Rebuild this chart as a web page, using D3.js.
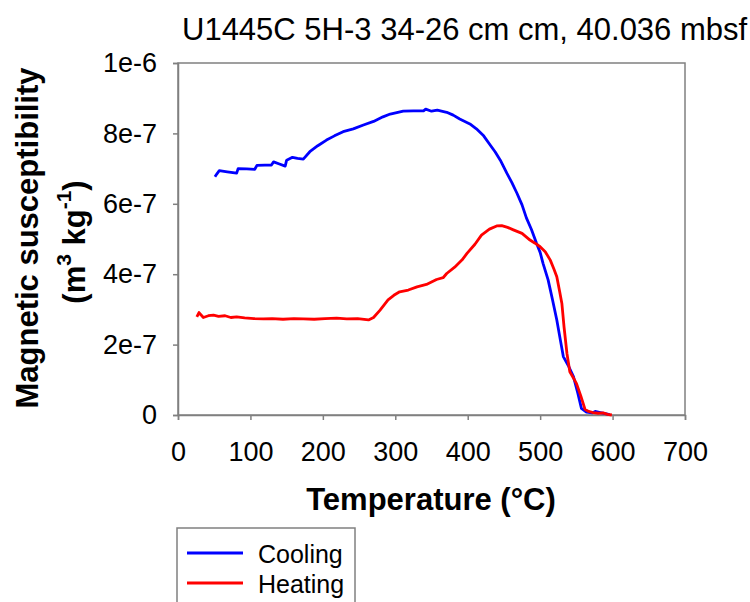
<!DOCTYPE html>
<html>
<head>
<meta charset="utf-8">
<script src="https://cdn.jsdelivr.net/npm/d3@7"></script>
<style>
  body { margin: 0; background: #fff; }
  svg { font-family: "Liberation Sans", Arial, sans-serif; }
</style>
</head>
<body>
<div id="chart"></div>
<script>
// Cooling curve (blue): temperature (°C) and susceptibility (m3 kg-1)
const coolT = [51, 54, 57, 68, 81, 83, 95, 106, 109, 120, 129, 132, 140, 148, 150, 158, 165, 173, 182,
  193, 205, 216, 228, 242, 256, 270, 283, 293, 302, 311, 325, 339, 342, 350, 358, 371, 380, 389,
  403, 412, 422, 431, 438, 445, 454, 461, 468, 475, 481, 488, 495, 500, 504, 511, 517, 523, 528,
  532, 539, 546, 552, 557, 564, 572, 576, 583, 590, 596];
const coolV = [6.77e-7, 6.86e-7, 6.94e-7, 6.91e-7, 6.87e-7, 7.00e-7, 6.99e-7, 6.98e-7, 7.09e-7, 7.10e-7,
  7.10e-7, 7.19e-7, 7.13e-7, 7.07e-7, 7.24e-7, 7.32e-7, 7.29e-7, 7.27e-7, 7.48e-7,
  7.65e-7, 7.81e-7, 7.93e-7, 8.05e-7, 8.13e-7, 8.24e-7, 8.34e-7, 8.47e-7, 8.55e-7, 8.59e-7, 8.63e-7,
  8.64e-7, 8.64e-7, 8.69e-7, 8.63e-7, 8.66e-7, 8.60e-7, 8.52e-7, 8.41e-7,
  8.27e-7, 8.13e-7, 7.93e-7, 7.67e-7, 7.47e-7, 7.24e-7, 6.87e-7, 6.60e-7, 6.30e-7, 5.97e-7, 5.60e-7,
  5.27e-7, 4.88e-7, 4.62e-7, 4.31e-7, 3.84e-7, 3.28e-7, 2.70e-7, 2.12e-7,
  1.66e-7, 1.40e-7, 1.09e-7, 0.62e-7, 0.19e-7, 0.08e-7, 0.06e-7, 0.10e-7, 0.07e-7, 0.04e-7, 0.01e-7];

// Heating curve (red)
const heatT = [26, 29, 35, 42, 49, 56, 65, 73, 81, 92, 105, 118, 130, 145, 160, 173, 188, 203, 219,
  233, 248, 263, 270, 279, 290, 298, 306, 318, 330, 343, 357, 366, 371, 382, 392, 399, 410, 419,
  430, 440, 447, 455, 463, 475, 486, 493, 500, 507, 514, 519, 523, 527, 530, 533, 537, 541, 546,
  550, 556, 562, 567, 573, 580, 587, 593, 599];
const heatV = [2.79e-7, 2.91e-7, 2.77e-7, 2.82e-7, 2.84e-7, 2.80e-7, 2.82e-7, 2.77e-7, 2.79e-7, 2.76e-7,
  2.74e-7, 2.73e-7, 2.74e-7, 2.72e-7, 2.74e-7, 2.73e-7, 2.72e-7, 2.74e-7, 2.75e-7,
  2.73e-7, 2.74e-7, 2.70e-7, 2.77e-7, 2.98e-7, 3.27e-7, 3.40e-7, 3.50e-7, 3.55e-7, 3.64e-7, 3.71e-7,
  3.85e-7, 3.90e-7, 4.02e-7, 4.20e-7, 4.40e-7, 4.59e-7, 4.85e-7, 5.11e-7,
  5.28e-7, 5.37e-7, 5.38e-7, 5.33e-7, 5.26e-7, 5.16e-7, 4.97e-7, 4.88e-7, 4.78e-7, 4.64e-7, 4.40e-7,
  4.15e-7, 3.93e-7, 3.50e-7, 3.17e-7, 2.50e-7, 1.75e-7, 1.23e-7, 1.05e-7,
  0.90e-7, 0.55e-7, 0.16e-7, 0.10e-7, 0.07e-7, 0.05e-7, 0.06e-7, 0.02e-7, 0.00e-7];

const xTicks = [0, 100, 200, 300, 400, 500, 600, 700];
const yTicks = [0, 2e-7, 4e-7, 6e-7, 8e-7, 1e-6];
const yTickLabels = ['0', '2e-7', '4e-7', '6e-7', '8e-7', '1e-6'];

const width = 750, height = 602;
const margin = { left: 178, right: 65, top: 63, bottom: 187 };
const axisColor = '#808080';
const font = '"Liberation Sans", Arial, sans-serif';

const svg = d3.select('#chart').append('svg')
  .attr('width', width)
  .attr('height', height);

const x = d3.scaleLinear().domain([0, 700]).range([margin.left, width - margin.right]);
const y = d3.scaleLinear().domain([0, 1e-6]).range([height - margin.bottom, margin.top]);

// Plot frame
svg.append('rect')
  .attr('x', x(0)).attr('y', y(1e-6))
  .attr('width', x(700) - x(0)).attr('height', y(0) - y(1e-6))
  .attr('fill', 'none').attr('stroke', axisColor).attr('stroke-width', 1.5);

// X axis
const xAxis = svg.append('g')
  .attr('transform', `translate(0,${y(0)})`)
  .call(d3.axisBottom(x).tickValues(xTicks).tickSize(5).tickPadding(41).tickFormat(d3.format('d')));
xAxis.select('.domain').attr('stroke', axisColor).attr('stroke-width', 1.5);
xAxis.selectAll('.tick line').attr('stroke', axisColor).attr('stroke-width', 1.5);
xAxis.selectAll('.tick text').attr('fill', '#000').attr('dy', null)
  .style('font-size', '27px').style('font-family', font);

// Y axis
const yAxis = svg.append('g')
  .attr('transform', `translate(${x(0)},0)`)
  .call(d3.axisLeft(y).tickValues(yTicks).tickSize(5).tickPadding(16)
    .tickFormat((d, i) => yTickLabels[i]));
yAxis.select('.domain').attr('stroke', axisColor).attr('stroke-width', 1.5);
yAxis.selectAll('.tick line').attr('stroke', axisColor).attr('stroke-width', 1.5);
yAxis.selectAll('.tick text').attr('fill', '#000')
  .style('font-size', '27px').style('font-family', font);

// Curves
const line = d3.line().x(d => x(d[0])).y(d => y(d[1]));
const coolData = d3.zip(coolT, coolV);
const heatData = d3.zip(heatT, heatV);

svg.append('path').datum(coolData)
  .attr('d', line).attr('fill', 'none').attr('stroke', '#0000ff')
  .attr('stroke-width', 2.8).attr('stroke-linejoin', 'round');
svg.append('path').datum(heatData)
  .attr('d', line).attr('fill', 'none').attr('stroke', '#ff0000')
  .attr('stroke-width', 2.8).attr('stroke-linejoin', 'round');

// Title
svg.append('text')
  .attr('x', 182).attr('y', 40)
  .style('font-size', '31px')
  .text('U1445C 5H-3 34-26 cm cm, 40.036 mbsf');

// X label
svg.append('text')
  .attr('x', 431).attr('y', 510)
  .attr('text-anchor', 'middle')
  .style('font-size', '31px').style('font-weight', 'bold')
  .text('Temperature (°C)');

// Y label (two lines)
const yl = svg.append('g').attr('transform', 'translate(0,238) rotate(-90)');
yl.append('text')
  .attr('x', 0).attr('y', 38)
  .attr('text-anchor', 'middle')
  .style('font-size', '31px').style('font-weight', 'bold')
  .text('Magnetic susceptibility');
const yl2 = yl.append('text')
  .attr('x', -4).attr('y', 85)
  .attr('text-anchor', 'middle')
  .style('font-size', '31px').style('font-weight', 'bold');
yl2.append('tspan').text('(m');
yl2.append('tspan').attr('dy', -14).style('font-size', '21px').text('3');
yl2.append('tspan').attr('dy', 14).text(' kg');
yl2.append('tspan').attr('dy', -14).style('font-size', '21px').text('-1');
yl2.append('tspan').attr('dy', 14).text(')');

// Legend
const legend = svg.append('g');
legend.append('rect')
  .attr('x', 177).attr('y', 528).attr('width', 178).attr('height', 90)
  .attr('fill', '#fff').attr('stroke', axisColor).attr('stroke-width', 1.5);
const legendItems = [
  { name: 'Cooling', color: '#0000ff' },
  { name: 'Heating', color: '#ff0000' }
];
legendItems.forEach((it, i) => {
  const ly = 553 + i * 30;
  legend.append('line')
    .attr('x1', 187).attr('x2', 243).attr('y1', ly).attr('y2', ly)
    .attr('stroke', it.color).attr('stroke-width', 2.8);
  legend.append('text')
    .attr('x', 258).attr('y', ly + 10)
    .style('font-size', '25px')
    .text(it.name);
});
</script>
</body>
</html>
